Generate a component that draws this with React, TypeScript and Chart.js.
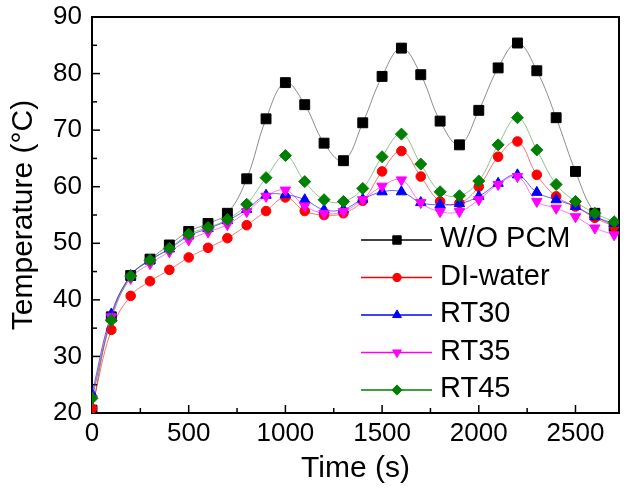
import React, { useEffect, useRef } from 'react';
import { Chart, registerables } from 'chart.js';
import { drawPoint } from 'chart.js/helpers';

Chart.register(...registerables);

const FONT = 'Arial, "Liberation Sans", sans-serif';

const times = [0, 100, 200, 300, 400, 500, 600, 700, 800, 900, 1000, 1100, 1200, 1300,
  1400, 1500, 1600, 1700, 1800, 1900, 2000, 2100, 2200, 2300, 2400, 2500, 2600, 2700];

const woPcm = [20.5, 37.0, 44.3, 47.2, 49.7, 52.1, 53.5, 55.3, 61.4, 72.0, 78.4, 74.5, 67.7, 64.6,
  71.3, 79.5, 84.5, 79.8, 71.6, 67.4, 73.5, 81.0, 85.4, 80.5, 72.2, 62.7, 55.3, 53.0];
const diWater = [20.8, 34.7, 40.7, 43.3, 45.3, 47.5, 49.2, 50.9, 53.2, 55.7, 58.1, 55.7, 55.0, 55.3,
  57.5, 62.7, 66.3, 61.8, 57.4, 57.1, 60.0, 65.3, 68.0, 62.1, 58.3, 56.5, 54.5, 53.0];
const rt30 = [23.4, 37.5, 44.3, 47.0, 49.0, 51.3, 52.6, 54.0, 56.0, 58.5, 58.6, 57.7, 55.9, 56.0,
  57.8, 59.1, 59.1, 57.2, 56.8, 57.0, 58.3, 60.6, 62.1, 59.0, 57.7, 56.5, 54.7, 53.5];
const rt35 = [22.5, 37.0, 43.8, 46.4, 48.5, 50.6, 52.0, 53.3, 55.6, 58.3, 59.4, 56.6, 55.3, 55.6,
  57.7, 60.1, 61.2, 57.2, 55.6, 55.6, 57.7, 60.4, 61.8, 57.4, 56.2, 54.7, 52.7, 51.5];
const rt45 = [22.6, 36.4, 44.2, 47.0, 49.1, 51.6, 52.8, 54.2, 56.9, 61.6, 65.5, 60.9, 57.7, 57.4,
  59.7, 65.3, 69.3, 64.0, 59.1, 58.4, 61.0, 67.4, 72.2, 66.5, 60.4, 57.4, 55.3, 53.8];

const seriesLabels = ['W/O PCM', 'DI-water', 'RT30', 'RT35', 'RT45'];
const seriesData = [woPcm, diWater, rt30, rt35, rt45];

const markerColors = ['#000000', '#ff0000', '#0000ff', '#ff00ff', '#008000'];
const lineColors = ['rgba(0,0,0,0.45)', 'rgba(255,0,0,0.55)', 'rgba(0,0,255,0.6)', 'rgba(255,0,255,0.55)', 'rgba(0,128,0,0.45)'];
const pointStyles = ['rect', 'circle', 'triangle', 'triangle', 'rectRot'];
const pointRadii = [7, 4.8, 6, 6, 6];
const pointRotations = [0, 0, 0, 180, 0];

const xTicksMajor = [0, 500, 1000, 1500, 2000, 2500];
const yTicksMajor = [20, 30, 40, 50, 60, 70, 80, 90];

export default function App() {
  const ref = useRef<HTMLCanvasElement>(null);

  useEffect(() => {
    const canvas = ref.current!;

    const framePlugin = {
      id: 'frameAndLegend',
      beforeDatasetsDraw(chart: any) {
        const { ctx, chartArea: a, scales } = chart;
        ctx.save();
        ctx.strokeStyle = '#000';
        ctx.lineWidth = 1.5;
        for (let v = 0; v <= 2500; v += 250) {
          const px = scales.x.getPixelForValue(v);
          const len = xTicksMajor.includes(v) ? 8 : 5;
          ctx.beginPath();
          ctx.moveTo(px, a.bottom);
          ctx.lineTo(px, a.bottom - len);
          ctx.stroke();
        }
        for (let v = 20; v <= 90; v += 5) {
          const py = scales.y.getPixelForValue(v);
          const len = yTicksMajor.includes(v) ? 8 : 5;
          ctx.beginPath();
          ctx.moveTo(a.left, py);
          ctx.lineTo(a.left + len, py);
          ctx.stroke();
        }
        ctx.lineWidth = 2;
        ctx.strokeRect(a.left, a.top, a.right - a.left, a.bottom - a.top);
        ctx.restore();
      },
      afterDraw(chart: any) {
        const { ctx } = chart;
        ctx.save();
        for (let i = 0; i < seriesLabels.length; i++) {
          const y = 240 + i * 37.5;
          ctx.strokeStyle = markerColors[i];
          ctx.lineWidth = 1.5;
          ctx.beginPath();
          ctx.moveTo(361, y);
          ctx.lineTo(432, y);
          ctx.stroke();
          ctx.fillStyle = markerColors[i];
          ctx.lineWidth = 1;
          drawPoint(ctx, {
            pointStyle: pointStyles[i] as any,
            radius: pointRadii[i] * 0.85,
            rotation: pointRotations[i],
            borderWidth: 1,
          } as any, 397, y);
          ctx.fillStyle = '#000';
          ctx.font = `29px ${FONT}`;
          ctx.textBaseline = 'middle';
          ctx.textAlign = 'left';
          ctx.fillText(seriesLabels[i], 440, y - 1);
        }
        ctx.restore();
      },
    };

    const chart = new Chart(canvas, {
      type: 'line',
      data: {
        datasets: seriesLabels.map((label, i) => ({
          label,
          data: times.map((t, j) => ({ x: t, y: seriesData[i][j] })),
          borderColor: lineColors[i],
          borderWidth: 1,
          backgroundColor: markerColors[i],
          pointBackgroundColor: markerColors[i],
          pointBorderColor: markerColors[i],
          pointBorderWidth: 1,
          pointStyle: pointStyles[i] as any,
          pointRadius: pointRadii[i],
          pointRotation: pointRotations[i],
          tension: 0.4,
          fill: false,
          order: seriesLabels.length - 1 - i,
        })),
      },
      options: {
        responsive: false,
        animation: false,
        devicePixelRatio: 1,
        layout: { padding: { top: 17, right: 3, left: 0, bottom: 0 } },
        plugins: { legend: { display: false }, tooltip: { enabled: false } },
        events: [],
        scales: {
          x: {
            type: 'linear',
            min: 0,
            max: 2725,
            afterBuildTicks: (s: any) => { s.ticks = xTicksMajor.map((v) => ({ value: v })); },
            afterFit: (s: any) => {
              s.height = 75;
              s.paddingLeft = 0; s.paddingRight = 0; s.paddingTop = 0; s.paddingBottom = 0;
            },
            grid: { display: false, drawTicks: false },
            border: { display: false },
            ticks: {
              color: '#000',
              font: { family: FONT, size: 26 },
              padding: 5,
              maxRotation: 0,
              minRotation: 0,
              autoSkip: false,
              callback: (v: any) => String(v),
            },
            title: {
              display: true,
              text: 'Time (s)',
              color: '#000',
              font: { family: FONT, size: 30 },
              padding: { top: 1, bottom: 1 },
            },
          },
          y: {
            type: 'linear',
            min: 20,
            max: 90,
            afterBuildTicks: (s: any) => { s.ticks = yTicksMajor.map((v) => ({ value: v })); },
            afterFit: (s: any) => {
              s.width = 92;
              s.paddingLeft = 0; s.paddingRight = 0; s.paddingTop = 0; s.paddingBottom = 0;
            },
            grid: { display: false, drawTicks: false },
            border: { display: false },
            ticks: {
              color: '#000',
              font: { family: FONT, size: 26 },
              padding: 10,
              autoSkip: false,
              callback: (v: any) => String(v),
            },
            title: {
              display: true,
              text: 'Temperature (°C)',
              color: '#000',
              font: { family: FONT, size: 30 },
              padding: { top: 6, bottom: 6 },
            },
          },
        },
      },
      plugins: [framePlugin],
    });

    return () => chart.destroy();
  }, []);

  return (
    <div style={{ position: 'absolute', left: 0, top: 0, width: 627, height: 488, background: '#fff' }}>
      <canvas ref={ref} width={627} height={488} style={{ width: 627, height: 488, display: 'block' }} />
    </div>
  );
}
